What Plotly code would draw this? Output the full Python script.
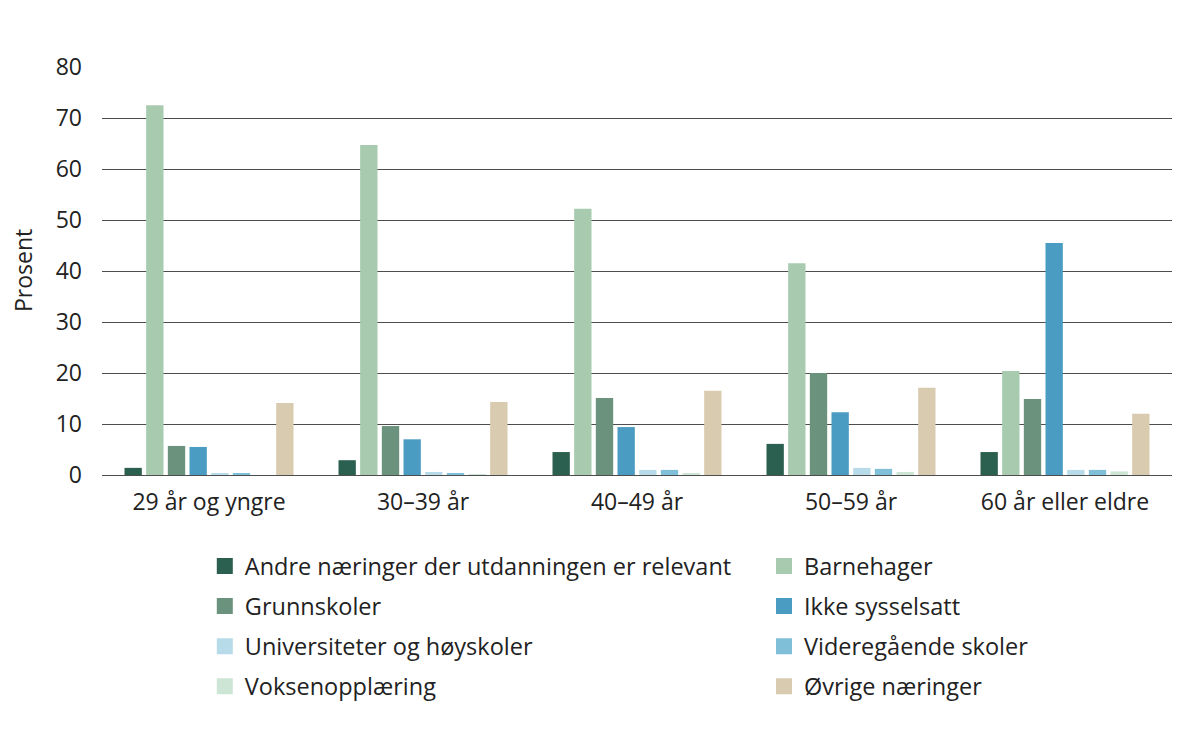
import plotly.graph_objects as go

categories = ["29 år og yngre", "30–39 år", "40–49 år", "50–59 år", "60 år eller eldre"]

series_names = [
    "Andre næringer der utdanningen er relevant",
    "Barnehager",
    "Grunnskoler",
    "Ikke sysselsatt",
    "Universiteter og høyskoler",
    "Videregående skoler",
    "Voksenopplæring",
    "Øvrige næringer",
]

andre = [1.4, 2.9, 4.5, 6.1, 4.5]
barnehager = [72.5, 64.7, 52.2, 41.5, 20.4]
grunnskoler = [5.7, 9.6, 15.1, 20.0, 14.9]
ikke_sysselsatt = [5.5, 7.0, 9.4, 12.3, 45.5]
universiteter = [0.2, 0.6, 1.0, 1.4, 1.0]
videregaende = [0.3, 0.4, 1.0, 1.2, 1.0]
voksenopplaering = [0.0, 0.1, 0.4, 0.6, 0.7]
ovrige = [14.1, 14.3, 16.5, 17.1, 12.0]

series_values = [andre, barnehager, grunnskoler, ikke_sysselsatt,
                 universiteter, videregaende, voksenopplaering, ovrige]

colors = ["#2b5f4f", "#a8cbb0", "#6b927c", "#4a9cc2",
          "#b7dbe9", "#80bfd8", "#cde5d5", "#d9cbb0"]

y_ticks = [0, 10, 20, 30, 40, 50, 60, 70, 80]

FONT = "Open Sans"

fig = go.Figure()
for i, (name, vals, col) in enumerate(zip(series_names, series_values, colors)):
    fig.add_trace(go.Bar(x=categories, y=vals, name=name, marker_color=col,
                         marker_line_width=0, showlegend=False, legendgroup=f"g{i}"))

# legend entries: two columns, filled row by row
for i, (name, col) in enumerate(zip(series_names, colors)):
    fig.add_trace(go.Scatter(x=[None], y=[None], mode="markers", name=name,
                             marker=dict(symbol="square", size=16, color=col),
                             legend="legend" if i % 2 == 0 else "legend2",
                             legendgroup=f"g{i}", showlegend=True))

legend_common = dict(orientation="v", xref="container", yref="container",
                     xanchor="left", yanchor="top", y=0.285,
                     font=dict(family=FONT, size=23.5, color="#222222"),
                     tracegroupgap=6.5, bgcolor="rgba(0,0,0,0)")

fig.update_layout(
    width=1200, height=750,
    paper_bgcolor="white", plot_bgcolor="white",
    font=dict(family=FONT, size=23, color="#222222"),
    margin=dict(l=94, r=36, t=59, b=283, autoexpand=False),
    barmode="group", bargap=0.19, bargroupgap=0.2,
    showlegend=True,
    legend=dict(x=0.164, **legend_common),
    legend2=dict(x=0.63, **legend_common),
    xaxis=dict(showgrid=False, showline=False, ticks="", tickfont=dict(size=23),
               ticklabelstandoff=11, automargin=False),
    yaxis=dict(range=[0, 80], tickvals=y_ticks, showgrid=True, gridcolor="#4d4d4d",
               gridwidth=1, zeroline=True, zerolinecolor="#4d4d4d", zerolinewidth=1,
               ticks="", tickfont=dict(size=23), ticklabelstandoff=19,
               automargin=False),
    annotations=[dict(text="Prosent", xref="paper", yref="paper",
                      x=(15 - 94) / 1070, y=0.5, xanchor="center", yanchor="middle",
                      textangle=-90, showarrow=False,
                      font=dict(family=FONT, size=23, color="#222222"))],
)

fig.write_html("out.html")
